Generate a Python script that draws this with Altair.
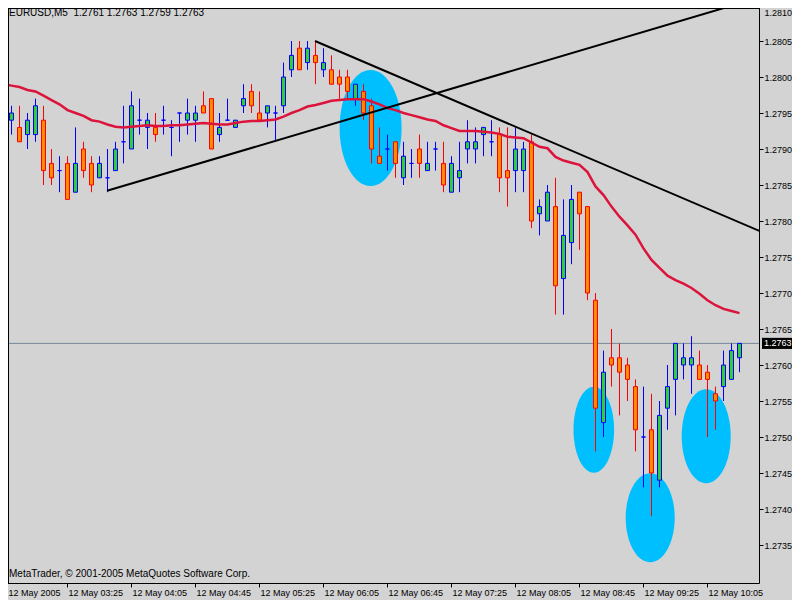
import altair as alt
import pandas as pd

# ---------------- data (EURUSD M5, 12 May 2005) ----------------
opens = [1.2793, 1.2794, 1.2793, 1.2792, 1.2792, 1.2794, 1.2788, 1.2787, 1.2788, 1.2784,
         1.2790, 1.2788, 1.2786, 1.2786, 1.2787, 1.2791, 1.2790, 1.2794, 1.2793, 1.2793,
         1.2794, 1.2793, 1.2795, 1.2794, 1.2794, 1.2796, 1.2797, 1.2792, 1.2794, 1.2793,
         1.2796, 1.2798, 1.2795, 1.2795, 1.2795, 1.2796, 1.2801, 1.2804, 1.2802, 1.2803,
         1.2801, 1.2801, 1.2800, 1.2800, 1.2797, 1.2798, 1.2796, 1.2789, 1.2790, 1.2791,
         1.2786, 1.2788, 1.2790, 1.2787, 1.2790, 1.2788, 1.2784, 1.2786, 1.2790, 1.2790,
         1.2792, 1.2791, 1.2792, 1.2787, 1.2787, 1.2787, 1.2791, 1.2781, 1.2780, 1.2782,
         1.2772, 1.2777, 1.2784, 1.2782, 1.2769, 1.2752, 1.2761, 1.2761, 1.2760, 1.2757,
         1.2750, 1.2751, 1.2744, 1.2754, 1.2758, 1.2760, 1.2760, 1.2760, 1.2759, 1.2756,
         1.2757, 1.2758, 1.2761]
highs = [1.2795, 1.2796, 1.2796, 1.2795, 1.2797, 1.2796, 1.2790, 1.2789, 1.2789, 1.2793,
         1.2791, 1.2789, 1.2789, 1.2790, 1.2791, 1.2796, 1.2798, 1.2797, 1.2795, 1.2795,
         1.2796, 1.2794, 1.2795, 1.2797, 1.2796, 1.2798, 1.2797, 1.2795, 1.2797, 1.2794,
         1.2799, 1.2799, 1.2798, 1.2796, 1.2796, 1.2802, 1.2805, 1.2805, 1.2805, 1.2805,
         1.2804, 1.2803, 1.2801, 1.2801, 1.2799, 1.2799, 1.2797, 1.2793, 1.2792, 1.2791,
         1.2791, 1.2790, 1.2792, 1.2791, 1.2791, 1.2791, 1.2789, 1.2791, 1.2794, 1.2793,
         1.2793, 1.2794, 1.2793, 1.2793, 1.2793, 1.2791, 1.2792, 1.2783, 1.2785, 1.2786,
         1.2783, 1.2785, 1.2784, 1.2782, 1.2770, 1.2762, 1.2765, 1.2763, 1.2761, 1.2758,
         1.2757, 1.2756, 1.2755, 1.2760, 1.2763, 1.2763, 1.2764, 1.2762, 1.2760, 1.2757,
         1.2762, 1.2763, 1.2763]
lows = [1.2791, 1.2792, 1.2791, 1.2790, 1.2791, 1.2785, 1.2785, 1.2784, 1.2783, 1.2784,
        1.2786, 1.2784, 1.2786, 1.2784, 1.2787, 1.2788, 1.2790, 1.2792, 1.2790, 1.2791,
        1.2792, 1.2789, 1.2791, 1.2792, 1.2791, 1.2795, 1.2790, 1.2791, 1.2794, 1.2793,
        1.2795, 1.2795, 1.2794, 1.2793, 1.2791, 1.2795, 1.2800, 1.2801, 1.2801, 1.2799,
        1.2800, 1.2799, 1.2797, 1.2797, 1.2796, 1.2794, 1.2788, 1.2788, 1.2787, 1.2786,
        1.2785, 1.2786, 1.2786, 1.2787, 1.2787, 1.2784, 1.2784, 1.2784, 1.2788, 1.2788,
        1.2789, 1.2789, 1.2784, 1.2782, 1.2784, 1.2784, 1.2779, 1.2778, 1.2780, 1.2767,
        1.2767, 1.2774, 1.2776, 1.2769, 1.2748, 1.2750, 1.2757, 1.2753, 1.2755, 1.2748,
        1.2743, 1.2739, 1.2743, 1.2751, 1.2753, 1.2758, 1.2756, 1.2758, 1.2750, 1.2751,
        1.2755, 1.2758, 1.2759]
closes = [1.2793, 1.2795, 1.2791, 1.2794, 1.2796, 1.2787, 1.2786, 1.2787, 1.2783, 1.2788,
          1.2787, 1.2785, 1.2788, 1.2786, 1.2790, 1.2791, 1.2796, 1.2794, 1.2794, 1.2792,
          1.2794, 1.2793, 1.2795, 1.2795, 1.2795, 1.2795, 1.2790, 1.2793, 1.2794, 1.2794,
          1.2797, 1.2796, 1.2794, 1.2796, 1.2795, 1.2800, 1.2803, 1.2801, 1.2804, 1.2802,
          1.2802, 1.2799, 1.2799, 1.2798, 1.2799, 1.2795, 1.2790, 1.2788, 1.2790, 1.2788,
          1.2789, 1.2788, 1.2788, 1.2788, 1.2790, 1.2785, 1.2788, 1.2787, 1.2791, 1.2791,
          1.2793, 1.2791, 1.2786, 1.2786, 1.2790, 1.2790, 1.2780, 1.2782, 1.2784, 1.2771,
          1.2778, 1.2783, 1.2781, 1.2770, 1.2754, 1.2759, 1.2760, 1.2759, 1.2758, 1.2751,
          1.2750, 1.2745, 1.2753, 1.2757, 1.2763, 1.2761, 1.2761, 1.2758, 1.2758, 1.2755,
          1.2760, 1.2762, 1.2763]
ma_values = [1.27990, 1.27988, 1.27986, 1.27982, 1.27980, 1.27974, 1.27968, 1.27962, 1.27954, 1.27950,
             1.27946, 1.27940, 1.27938, 1.27934, 1.27931, 1.27930, 1.27931, 1.27932, 1.27933, 1.27932,
             1.27932, 1.27933, 1.27933, 1.27934, 1.27935, 1.27936, 1.27935, 1.27934, 1.27934, 1.27936,
             1.27938, 1.27939, 1.27939, 1.27940, 1.27941, 1.27945, 1.27950, 1.27954, 1.27959, 1.27961,
             1.27964, 1.27967, 1.27968, 1.27969, 1.27969, 1.27969, 1.27966, 1.27962, 1.27957, 1.27954,
             1.27950, 1.27947, 1.27944, 1.27941, 1.27939, 1.27933, 1.27929, 1.27925, 1.27925, 1.27925,
             1.27924, 1.27923, 1.27921, 1.27917, 1.27916, 1.27915, 1.27909, 1.27903, 1.27901, 1.27889,
             1.27884, 1.27881, 1.27878, 1.27868, 1.27848, 1.27836, 1.27820, 1.27806, 1.27794, 1.27781,
             1.27762, 1.27746, 1.27735, 1.27724, 1.27718, 1.27713, 1.27707, 1.27699, 1.27690, 1.27683,
             1.27678, 1.27675, 1.27672]

tick_bars = [0, 8, 16, 24, 32, 40, 48, 56, 64, 72, 80, 88]
tick_labels = ["12 May 2005", "12 May 03:25", "12 May 04:05", "12 May 04:45",
               "12 May 05:25", "12 May 06:05", "12 May 06:45", "12 May 07:25",
               "12 May 08:05", "12 May 08:45", "12 May 09:25", "12 May 10:05"]
price_ticks = [1.2735, 1.2740, 1.2745, 1.2750, 1.2755, 1.2760, 1.2765, 1.2770,
               1.2775, 1.2780, 1.2785, 1.2790, 1.2795, 1.2800, 1.2805, 1.2810]

# hand-drawn trend lines (bar index, price)
trend_names = ["up", "up", "down", "down"]
trend_bars = [13, 92, 39, 94.6]
trend_prices = [1.27842, 1.28102, 1.28050, 1.27786]

# cyan ellipses (centre bar, centre price)
ellipse_ids = ["e1", "e2", "e3", "e4"]
ellipse_bars = [45.95, 73.85, 80.9, 87.9]
ellipse_prices = [1.27929, 1.27510, 1.27388, 1.27501]
ellipse_rx = [31, 20.3, 24.5, 24.5]
ellipse_ry = [58, 43, 44.5, 47]

# ---------------- styling ----------------
FONT = "Liberation Sans"
BG = "#D3D3D3"
W, H = 751, 575
SVG_W, SVG_H = 784, 592
PX_BAR = 8            # pixels per bar
PX_UNIT = 72000       # pixels per price unit

n = len(opens)
bars = pd.DataFrame({"i": list(range(n)), "open": opens, "high": highs,
                     "low": lows, "close": closes, "ma": ma_values})
bars["dir"] = ["up" if c >= o else "down" for o, c in zip(opens, closes)]

# x: bar 0 sits 5px left of the plot edge (as in the reference)
x_lo = -5
xs = alt.Scale(domain=[0, (W - x_lo) / PX_BAR], range=[x_lo, W],
               nice=False, zero=False, padding=0)
# y: 1.2810 sits 3px above the plot top
y_top_px = -3
p_top = 1.2810
p_bot = p_top - (H - y_top_px) / PX_UNIT
ys = alt.Scale(domain=[p_bot, p_top], range=[H, y_top_px], nice=False, zero=False, padding=0)

labels_js = "[" + ",".join("'%s'" % s for s in tick_labels) + "]"
vals_js = "[" + ",".join(str(v) for v in tick_bars) + "]"

x_axis = alt.Axis(values=tick_bars,
                  labelExpr=f"{labels_js}[indexof({vals_js}, datum.value)]",
                  labelAlign="left", labelBaseline="top", labelPadding=1,
                  labelOffset={"condition": {"test": "datum.value == 0", "value": 5}, "value": 1},
                  tickSize=4, tickColor="black", domainColor="black",
                  labelColor="black", labelFontSize=9, labelFont=FONT,
                  labelOverlap=False, labelFlush=False, labelBound=False,
                  grid=False, title=None)
y_axis = alt.Axis(orient="right", values=price_ticks, format=".4f",
                  tickSize=4, labelPadding=1, tickColor="black", domainColor="black",
                  labelColor="black", labelFontSize=9, labelFont=FONT,
                  labelOffset={"condition": {"test": "datum.value > 1.28095", "value": 7},
                               "value": 0},
                  labelOverlap=False, labelFlush=False, labelBound=False,
                  grid=False, title=None)


def X(f):
    return alt.X(f, scale=xs, axis=x_axis)


def Y(f):
    return alt.Y(f, scale=ys, axis=y_axis)


edge_scale = alt.Scale(domain=["up", "down"], range=["#0000FF", "#FF0000"])
fill_scale = alt.Scale(domain=["up", "down"], range=["#32CD32", "#FF8C00"])

# ellipses as custom symbols
k = 0.5523
paths = []
for rx, ry in zip(ellipse_rx, ellipse_ry):
    a = rx / ry
    paths.append(
        f"M0,-1 C{k*a:.4f},-1 {a:.4f},{-k} {a:.4f},0 C{a:.4f},{k} {k*a:.4f},1 0,1 "
        f"C{-k*a:.4f},1 {-a:.4f},{k} {-a:.4f},0 C{-a:.4f},{-k} {-k*a:.4f},-1 0,-1 Z")
ell = pd.DataFrame({"eid": ellipse_ids, "i": ellipse_bars, "p": ellipse_prices,
                    "size": [(2 * ry) ** 2 for ry in ellipse_ry]})
ellipses = alt.Chart(ell).mark_point(filled=True, opacity=1, strokeWidth=0,
                                     color="#00BFFF").encode(
    x=X("i:Q"), y=Y("p:Q"),
    shape=alt.Shape("eid:N", scale=alt.Scale(domain=ellipse_ids, range=paths), legend=None),
    size=alt.Size("size:Q", scale=None, legend=None))

last = pd.DataFrame({"p": [closes[-1]], "label": [f"{closes[-1]:.4f}"]})
price_line = alt.Chart(last).mark_rule(color="#778899", strokeWidth=1).encode(y=Y("p:Q"))

wicks = alt.Chart(bars).mark_rule(strokeWidth=1, xOffset=0.5, clip=True).encode(
    x=X("i:Q"), y=Y("low:Q"), y2="high:Q",
    stroke=alt.Stroke("dir:N", scale=edge_scale, legend=None))

bodies = alt.Chart(bars).mark_bar(size=4, strokeWidth=1, xOffset=0.5, clip=True).encode(
    x=X("i:Q"), y=Y("open:Q"), y2="close:Q",
    fill=alt.Fill("dir:N", scale=fill_scale, legend=None),
    stroke=alt.Stroke("dir:N", scale=edge_scale, legend=None))

ma_line = alt.Chart(bars).mark_line(color="#DC143C", strokeWidth=2.5, xOffset=0.5,
                                    clip=True).encode(x=X("i:Q"), y=Y("ma:Q"))

tl = pd.DataFrame({"line": trend_names, "i": trend_bars, "p": trend_prices})
trend = alt.Chart(tl).mark_line(color="black", strokeWidth=2, clip=True).encode(
    x=X("i:Q"), y=Y("p:Q"), detail="line:N")

box_path = "M-1,-0.37 L1,-0.37 L1,0.37 L-1,0.37 Z"
price_box = alt.Chart(last).mark_point(shape=box_path, size=30 * 30, filled=True,
                                       opacity=1, color="black", strokeWidth=0).encode(
    x=alt.value(W + 18), y=Y("p:Q"))
price_text = alt.Chart(last).mark_text(align="left", baseline="middle", color="white",
                                       fontSize=9, font=FONT).encode(
    x=alt.value(W + 5), y=Y("p:Q"), text="label:N")

header_txt = "EURUSD,M5 \u00a0" + " ".join(
    f"{v:.4f}" for v in (opens[-1], highs[-1], lows[-1], closes[-1]))
texts = pd.DataFrame({"t": [header_txt, "MetaTrader, \u00a9 2001-2005 MetaQuotes Software Corp."],
                      "ty": ["head", "foot"]})
header = alt.Chart(texts[texts.ty == "head"]).mark_text(
    align="left", baseline="alphabetic", fontSize=10, font=FONT, color="black").encode(
    x=alt.value(1), y=alt.value(8), text="t:N")
footer = alt.Chart(texts[texts.ty == "foot"]).mark_text(
    align="left", baseline="alphabetic", fontSize=10, font=FONT, color="black").encode(
    x=alt.value(1), y=alt.value(H - 6), text="t:N")

one = pd.DataFrame({"a": [0]})
frame_top = alt.Chart(one).mark_rule(color="black", strokeWidth=1).encode(
    x=alt.value(0), x2=alt.value(W), y=alt.value(0.5))
frame_left = alt.Chart(one).mark_rule(color="black", strokeWidth=1).encode(
    x=alt.value(0.5), y=alt.value(0), y2=alt.value(H))

chart = alt.layer(ellipses, price_line, wicks, bodies, ma_line, trend,
                  price_box, price_text, header, footer, frame_top, frame_left).properties(
    width=W, height=H, background=BG,
    padding={"left": 0, "top": 0, "right": SVG_W - W, "bottom": SVG_H - H},
    autosize=alt.AutoSizeParams(type="none"),
).configure_view(stroke=None, fill=BG).configure(font=FONT)

chart.save("out.html", embed_options={"renderer": "svg", "actions": False})
